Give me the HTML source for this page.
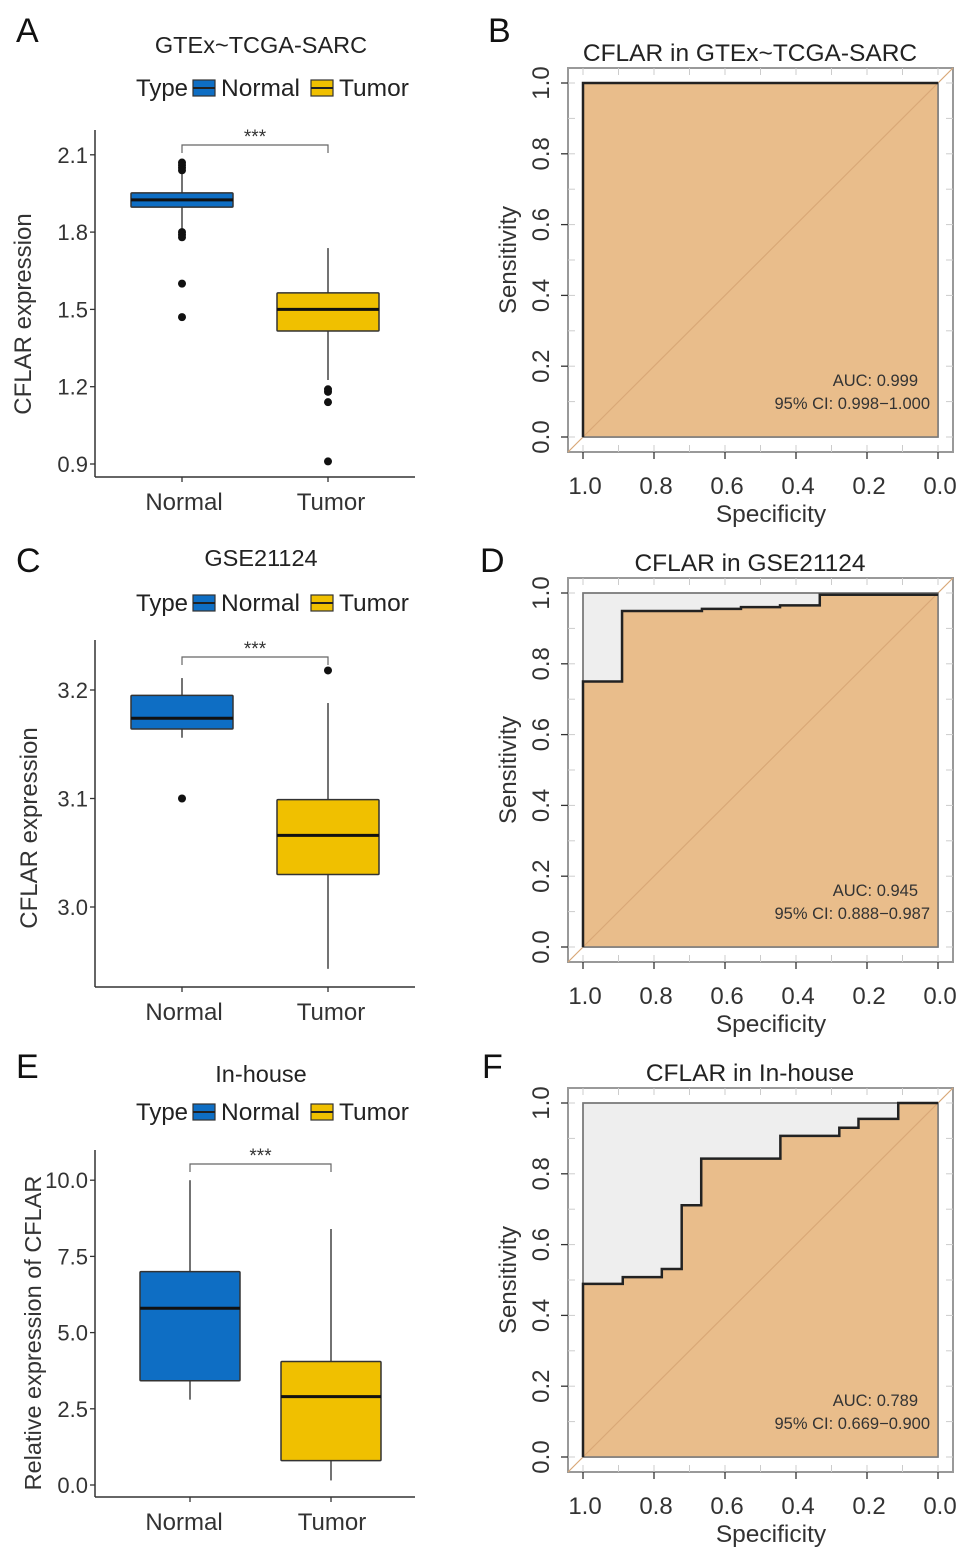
<!DOCTYPE html>
<html><head><meta charset="utf-8"><style>
html,body{margin:0;padding:0;background:#fff}
svg{display:block;font-family:"Liberation Sans",Arial,sans-serif}
</style></head><body>
<svg id="fig" width="969" height="1559" viewBox="0 0 969 1559"></svg>
<script>
// ---- data ----
const groups = ["Normal","Tumor"];
// box stats: [lowWhisker, q1, median, q3, highWhisker]
const boxA = [[1.80,1.897,1.925,1.952,2.03],[1.226,1.416,1.50,1.564,1.738]];
const outA = [[2.04,2.05,2.06,2.07,1.80,1.79,1.78,1.60,1.47],[1.19,1.18,1.14,0.91]];
const ticksA = [0.9,1.2,1.5,1.8,2.1];
const boxC = [[3.156,3.164,3.174,3.195,3.211],[2.943,3.030,3.066,3.099,3.188]];
const outC = [[3.10],[3.218]];
const ticksC = [3.0,3.1,3.2];
const boxE = [[2.8,3.42,5.8,7.0,10.0],[0.15,0.8,2.9,4.05,8.4]];
const outE = [[],[]];
const ticksE = [0.0,2.5,5.0,7.5,10.0];
// ROC curves: specificity and sensitivity
const rocBspec = [1,1,0];
const rocBsens = [0,1,1];
const rocDspec = [1,1,0.89,0.89,0.665,0.665,0.555,0.555,0.445,0.445,0.333,0.333,0];
const rocDsens = [0,0.75,0.75,0.949,0.949,0.955,0.955,0.96,0.96,0.965,0.965,0.995,0.995];
const rocFspec = [1,1,0.888,0.888,0.778,0.778,0.722,0.722,0.667,0.667,0.444,0.444,0.278,0.278,0.224,0.224,0.112,0.112,0];
const rocFsens = [0,0.489,0.489,0.508,0.508,0.531,0.531,0.711,0.711,0.843,0.843,0.907,0.907,0.93,0.93,0.955,0.955,1,1];
const rocTicks = [0,0.2,0.4,0.6,0.8,1.0];
const aucLabels = ["AUC: 0.999","AUC: 0.945","AUC: 0.789"];
const ciLabels = ["95% CI: 0.998\u22121.000","95% CI: 0.888\u22120.987","95% CI: 0.669\u22120.900"];

const NS="http://www.w3.org/2000/svg";
const svg=document.getElementById('fig');
function el(tag,attrs,parent,text){const e=document.createElementNS(NS,tag);for(const k in attrs)e.setAttribute(k,attrs[k]);if(text!==undefined)e.textContent=text;(parent||svg).appendChild(e);return e;}
const colors=["#0e6ec4","#f0c000"];

function letter(ch,x,y){const t=el('text',{x:x,y:y,'font-size':34,fill:'#111'},svg,ch);

}

function boxPanel(id,cfg){
  const g=el('g',{});
  
  
  const ym=v=>cfg.y0-(v-cfg.v0)/cfg.dv*cfg.dy;
  const xs=cfg.xs;
  const t=el('text',{x:cfg.titleX,y:cfg.titleY,'font-size':23.5,fill:'#222','text-anchor':'middle'},g,cfg.title);
  
  const lg=el('g',{},g);
  
  const ly=cfg.legY;
  el('text',{x:136,y:ly+8,'font-size':24,fill:'#222'},lg,'Type');
  [[193,'Normal',221,0],[311,'Tumor',339,1]].forEach(([kx,lab,tx,i])=>{
    const k=el('g',{},lg);
    
    el('rect',{x:kx,y:ly-8,width:22,height:16,fill:colors[i],stroke:'#333','stroke-width':1.2},k);
    el('line',{x1:kx,x2:kx+22,y1:ly,y2:ly,stroke:'#222','stroke-width':2},k);
    el('text',{x:tx,y:ly+8,'font-size':24.5,fill:'#222'},k,lab);
  });
  const ax=el('g',{},g);
  
  el('line',{x1:95,x2:95,y1:cfg.top,y2:cfg.bot,stroke:'#333','stroke-width':1.5},ax);
  el('line',{x1:95,x2:415,y1:cfg.bot,y2:cfg.bot,stroke:'#333','stroke-width':1.5},ax);
  cfg.ticks.forEach(v=>{const y=ym(v);
    el('line',{x1:90,x2:95,y1:y,y2:y,stroke:'#333','stroke-width':1.3},ax);
    const tl=el('text',{x:88,y:y+8,'font-size':22,fill:'#333','text-anchor':'end'},ax,cfg.fmt(v));
    
  });
  groups.forEach((gn,i)=>{
    el('line',{x1:xs[i],x2:xs[i],y1:cfg.bot,y2:cfg.bot+5,stroke:'#333','stroke-width':1.3},ax);
    const tl=el('text',{x:cfg.xl[i],y:cfg.bot+33,'font-size':24,fill:'#333','text-anchor':'middle'},ax,gn);
    
  });
  const yt=el('text',{x:0,y:0,'font-size':cfg.ylabSize,fill:'#333','text-anchor':'middle',transform:`translate(${cfg.ylabX},${cfg.ylabY}) rotate(-90)`},ax,cfg.ylab);
  
  cfg.box.forEach((b,i)=>{
    const bg=el('g',{},g);
    
    const x=xs[i],hw=cfg.hw;
    el('line',{x1:x,x2:x,y1:ym(b[0]),y2:ym(b[1]),stroke:'#444','stroke-width':1.5},bg);
    el('line',{x1:x,x2:x,y1:ym(b[3]),y2:ym(b[4]),stroke:'#444','stroke-width':1.5},bg);
    el('rect',{x:x-hw,y:ym(b[3]),width:2*hw,height:ym(b[1])-ym(b[3]),fill:colors[i],stroke:'#333','stroke-width':1.5,rx:1},bg);
    el('line',{x1:x-hw,x2:x+hw,y1:ym(b[2]),y2:ym(b[2]),stroke:'#111','stroke-width':3},bg);
    cfg.out[i].forEach(v=>{const c=el('circle',{cx:x,cy:ym(v),r:4,fill:'#111'},bg);
      });
  });
  const sg=el('g',{},g);
  
  const by=cfg.brY;
  el('path',{d:`M${xs[0]},${by+8}V${by}H${xs[1]}V${by+8}`,fill:'none',stroke:'#666','stroke-width':1.2},sg);
  el('text',{x:(xs[0]+xs[1])/2,y:by-2,'font-size':19,fill:'#333','text-anchor':'middle'},sg,'***');
}

boxPanel('a',{title:'GTEx~TCGA-SARC',titleX:261,titleY:53,legY:88,top:130,bot:477,xs:[182,328],xl:[184,331],hw:51,
  v0:0.9,dv:0.3,dy:77.3,y0:464,ticks:ticksA,fmt:v=>v.toFixed(1),box:boxA,out:outA,brY:145,
  ylab:'CFLAR expression',ylabX:31,ylabY:314,ylabSize:24});
boxPanel('c',{title:'GSE21124',titleX:261,titleY:566,legY:603,top:640,bot:987,xs:[182,328],xl:[184,331],hw:51,
  v0:3.0,dv:0.1,dy:108.5,y0:907,ticks:ticksC,fmt:v=>v.toFixed(1),box:boxC,out:outC,brY:657,
  ylab:'CFLAR expression',ylabX:37,ylabY:828,ylabSize:24});
boxPanel('e',{title:'In-house',titleX:261,titleY:1082,legY:1112,top:1150,bot:1497,xs:[190,331],xl:[184,332],hw:50,
  v0:0,dv:2.5,dy:76.2,y0:1485,ticks:ticksE,fmt:v=>v.toFixed(1),box:boxE,out:outE,brY:1164,
  ylab:'Relative expression of CFLAR',ylabX:41,ylabY:1333,ylabSize:23.5});

function rocPanel(id,cfg,spec,sens,idx){
  const g=el('g',{});
  
  const L=583,R=938,T=cfg.top,B=cfg.top+354;
  const xm=s=>R-(s)*(R-L), ym=v=>B-v*(B-T);
  el('rect',{x:L-15,y:T-15,width:R-L+30,height:B-T+30,fill:'#fff',stroke:'#999','stroke-width':2},g);
  for(let i=0;i<=10;i++){const x=L+(R-L)*i/10,y=T+(B-T)*i/10;
    el('line',{x1:x,x2:x,y1:T-15,y2:T-8,stroke:'#ccc','stroke-width':1},g);
    el('line',{x1:x,x2:x,y1:B+8,y2:B+15,stroke:'#ccc','stroke-width':1},g);
    el('line',{x1:L-15,x2:L-8,y1:y,y2:y,stroke:'#ccc','stroke-width':1},g);
    el('line',{x1:R+8,x2:R+15,y1:y,y2:y,stroke:'#ccc','stroke-width':1},g);}
  el('rect',{x:L,y:T,width:R-L,height:B-T,fill:'#eeeeee',stroke:'#777','stroke-width':1.5},g);
  let d='';spec.forEach((s,i)=>{d+=(i?'L':'M')+xm(s)+','+ym(sens[i]);});
  const area=el('path',{d:d+`L${xm(0)},${ym(0)}Z`,fill:'#e9bd8b'},g);
  
  el('line',{x1:L-15,y1:B+15,x2:R+15,y2:T-15,stroke:'#d9a877','stroke-width':1.2},g);
  el('rect',{x:L,y:T,width:R-L,height:B-T,fill:'none',stroke:'#777','stroke-width':1.5},g);
  const curve=el('path',{d:d,fill:'none',stroke:'#222','stroke-width':2.5},g);
  
  rocTicks.forEach(v=>{
    const x=xm(v),y=ym(v);
    el('line',{x1:x,x2:x,y1:B+15,y2:B+22,stroke:'#333','stroke-width':1.3},g);
    const xl=el('text',{x:x+2,y:B+57,'font-size':24,fill:'#333','text-anchor':'middle'},g,v.toFixed(1));
    
    el('line',{x1:L-15,x2:L-22,y1:y,y2:y,stroke:'#333','stroke-width':1.3},g);
    const yl=el('text',{x:0,y:0,'font-size':24,fill:'#333','text-anchor':'middle',transform:`translate(549,${y}) rotate(-90)`},g,v.toFixed(1));
    
  });
  const xt=el('text',{x:771,y:B+85,'font-size':24.5,fill:'#333','text-anchor':'middle'},g,'Specificity');
  
  const yt=el('text',{x:0,y:0,'font-size':24,fill:'#333','text-anchor':'middle',transform:`translate(516,${(T+B)/2}) rotate(-90)`},g,'Sensitivity');
  
  const tt=el('text',{x:750,y:T-22,'font-size':24.5,fill:'#222','text-anchor':'middle'},g,cfg.title);
  
  const a=el('text',{x:918,y:B-51,'font-size':16.5,fill:'#333','text-anchor':'end'},g,aucLabels[idx]);
  
  const c=el('text',{x:930,y:B-28,'font-size':16.5,fill:'#333','text-anchor':'end'},g,ciLabels[idx]);
  
}
rocPanel('b',{top:83,title:'CFLAR in GTEx~TCGA-SARC'},rocBspec,rocBsens,0);
rocPanel('d',{top:593,title:'CFLAR in GSE21124'},rocDspec,rocDsens,1);
rocPanel('f',{top:1103,title:'CFLAR in In-house'},rocFspec,rocFsens,2);

letter('A',16,42);letter('B',488,42);letter('C',16,572);letter('D',480,572);letter('E',16,1078);letter('F',482,1078);
</script>
</body></html>
